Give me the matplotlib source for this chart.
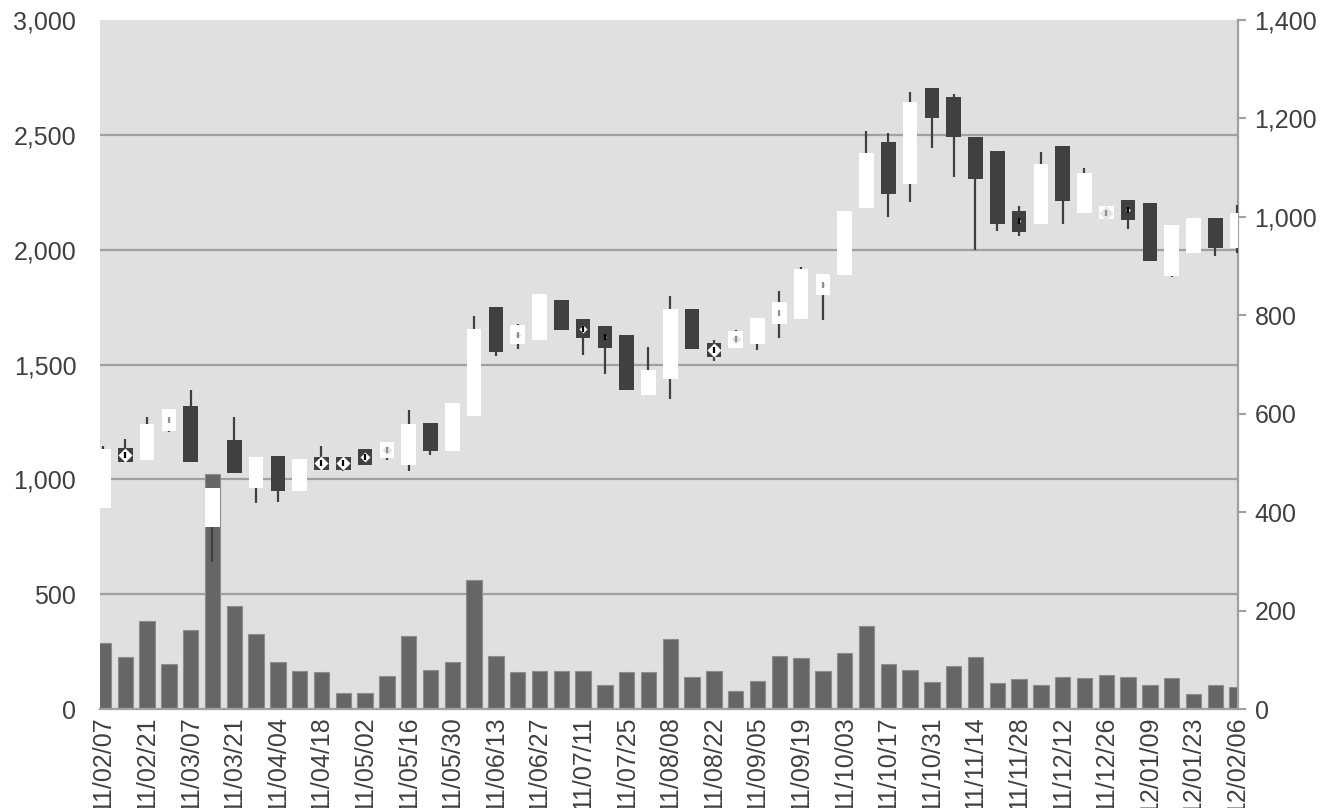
import numpy as np
import pandas as pd
import matplotlib
matplotlib.use('Agg')
import matplotlib.pyplot as plt
from matplotlib.ticker import FuncFormatter

plt.rcParams['font.family'] = ['Liberation Sans', 'DejaVu Sans']

# weekly data, 2011/02/07 .. 2012/02/06
weeks = pd.date_range('2011-02-07', periods=53, freq='7D')

opens = [877, 1135, 1083, 1213, 1320, 793, 1170, 964, 1103, 948,
         1100, 1100, 1133, 1093, 1064, 1246, 1123, 1275, 1749, 1588,
         1606, 1781, 1697, 1668, 1630, 1367, 1439, 1742, 1593, 1574,
         1590, 1677, 1698, 1804, 1890, 2180, 2467, 2285, 2703, 2664,
         2491, 2429, 2170, 2114, 2450, 2162, 2133, 2217, 2203, 1885,
         1985, 2138, 2008]
highs = [1145, 1178, 1270, 1307, 1391, 964, 1270, 1100, 1103, 1091,
         1145, 1100, 1133, 1162, 1304, 1246, 1332, 1713, 1749, 1677,
         1807, 1781, 1697, 1668, 1630, 1575, 1800, 1742, 1608, 1650,
         1704, 1819, 1926, 1893, 2170, 2517, 2507, 2688, 2703, 2677,
         2491, 2429, 2191, 2427, 2450, 2357, 2191, 2217, 2203, 2106,
         2140, 2138, 2195]
lows = [877, 1075, 1083, 1206, 1077, 642, 1029, 896, 900, 948,
        1040, 1037, 1062, 1084, 1037, 1107, 1123, 1275, 1536, 1570,
        1606, 1649, 1544, 1457, 1388, 1367, 1350, 1568, 1517, 1574,
        1562, 1614, 1698, 1693, 1890, 2180, 2144, 2209, 2444, 2316,
        1998, 2080, 2059, 2114, 2113, 2162, 2133, 2090, 1949, 1881,
        1985, 1973, 1984]
closes = [1133, 1077, 1241, 1307, 1077, 964, 1029, 1100, 948, 1091,
          1040, 1040, 1062, 1162, 1241, 1126, 1332, 1654, 1557, 1671,
          1807, 1649, 1617, 1572, 1388, 1475, 1742, 1568, 1534, 1646,
          1704, 1771, 1914, 1893, 2170, 2422, 2242, 2644, 2575, 2491,
          2309, 2113, 2078, 2371, 2210, 2332, 2191, 2129, 1949, 2106,
          2140, 2008, 2160]
volumes = [135, 107, 180, 91, 160, 477, 209, 153, 96, 77,
           76, 33, 34, 67, 149, 80, 96, 262, 109, 76,
           77, 78, 78, 50, 76, 76, 143, 65, 78, 38,
           58, 108, 105, 78, 115, 170, 91, 80, 56, 88,
           107, 54, 61, 50, 65, 64, 70, 65, 50, 64,
           31, 50, 45]

text_c = '#404040'
dark = '#404040'
grid_c = '#a0a0a0'

fig = plt.figure(figsize=(13.33, 8.08), dpi=100)
ax = fig.add_axes([0.075, 0.1222, 0.8537, 0.8531])
ax.set_facecolor('#e0e0e0')
axp = ax.twinx()   # price axis, drawn over the volume bars

x = np.arange(len(weeks))

# volume bars (right scale)
ax.bar(x, volumes, width=0.71, color='#666666', edgecolor='#8c8c8c',
       linewidth=0.8, zorder=2)
ax.set_ylim(0, 1400)
ax.yaxis.tick_right()
ax.yaxis.set_label_position('right')
ax.set_yticks(np.arange(0, 1401, 200))
ax.yaxis.set_major_formatter(FuncFormatter(lambda v, p: f'{v:,.0f}'))
# grid follows price scale (every 500 on 0..3000)
ax.set_yticks(np.arange(0, 3001, 500) * 1400 / 3000, minor=True)
ax.grid(True, which='minor', axis='y', color=grid_c, linewidth=1.6, zorder=0)
ax.grid(False, which='major')
ax.tick_params(axis='y', which='minor', length=0, right=False, left=False)
ax.tick_params(axis='y', which='major', direction='out', length=6,
               width=1.5, color=grid_c, labelsize=18, labelcolor=text_c, pad=6,
               left=False, labelleft=False, right=True, labelright=True)
ax.set_axisbelow(True)

ax.set_xlim(-0.16, 52.04)
ax.set_xticks(x[::2])
ax.set_xticklabels([d.strftime('%y/%m/%d') for d in weeks[::2]], rotation=90,
                   va='top', ha='center')
ax.tick_params(axis='x', length=0, labelsize=18, labelcolor=text_c, pad=5)

for s in ['top', 'left']:
    ax.spines[s].set_visible(False)
for s in ['bottom', 'right']:
    ax.spines[s].set_color(grid_c)
    ax.spines[s].set_linewidth(1.6)

# candlesticks (left scale)
axp.set_ylim(0, 3000)
axp.set_xlim(ax.get_xlim())
axp.set_yticks(np.arange(0, 3001, 500))
axp.yaxis.set_major_formatter(FuncFormatter(lambda v, p: f'{v:,.0f}'))
axp.tick_params(axis='y', length=0, labelsize=18, labelcolor=text_c, pad=17,
                left=True, labelleft=True, right=False, labelright=False)
for s in axp.spines.values():
    s.set_visible(False)

axp.vlines(x, lows, highs, color=dark, linewidth=1.6, zorder=2)
up = [c >= o for o, c in zip(opens, closes)]
body_h = [abs(c - o) for o, c in zip(opens, closes)]
body_b = [min(o, c) for o, c in zip(opens, closes)]
axp.bar(x, body_h, bottom=body_b, width=0.67,
        color=['white' if u else dark for u in up], linewidth=0, zorder=3)

# small bodies show a diamond mark in the middle
px_per_unit = ax.get_position().height * fig.get_figheight() * fig.dpi / 3000
for i in range(len(x)):
    h = body_h[i] * px_per_unit
    if h < 24:
        mid = body_b[i] + body_h[i] / 2
        size = (24 - h) * 0.9
        fc = 'white' if not up[i] else '#e4e4e4'
        axp.plot(x[i], mid, marker='D', ms=size * 0.72, mfc=fc, mec='none',
                 zorder=4)
        axp.plot(x[i], mid, marker='|', ms=4, mew=1.6,
                 color='black' if not up[i] else '#909090', zorder=5)

fig.savefig('out.png', dpi=100)
